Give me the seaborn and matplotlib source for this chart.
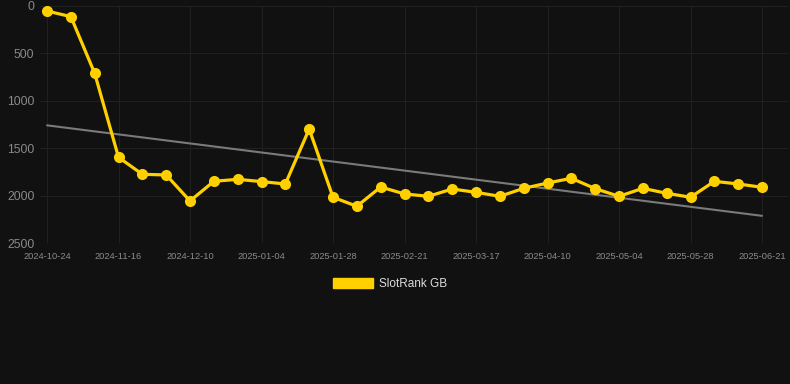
import numpy as np
import pandas as pd
import matplotlib
matplotlib.use('Agg')
import matplotlib.pyplot as plt
import seaborn as sns
from matplotlib.patches import Patch

# ── Data ───────────────────────────────────────────────────────────────────
rank = [53, 112, 709, 1594, 1773, 1780, 2054, 1847, 1826, 1850, 1875,
        1296, 2015, 2110, 1907, 1980, 2005, 1928, 1963, 2005, 1921, 1865,
        1815, 1924, 2005, 1921, 1973, 2015, 1847, 1875, 1910]
tick_labels = ['2024-10-24', '2024-11-16', '2024-12-10', '2025-01-04',
               '2025-01-28', '2025-02-21', '2025-03-17', '2025-04-10',
               '2025-05-04', '2025-05-28', '2025-06-21']
y_ticks = [0, 500, 1000, 1500, 2000, 2500]
series_name = 'SlotRank GB'

BG     = '#111111'
GOLD   = '#FFD000'
GRID   = '#202020'
TICKC  = '#8a8a8a'

df = pd.DataFrame({'idx': np.arange(len(rank)), 'rank': rank})

# linear trend over the series
coef  = np.polyfit(df['idx'], df['rank'], 1)
trend = np.polyval(coef, df['idx'])

# ── Plot ───────────────────────────────────────────────────────────────────
sns.set_theme(style='dark', rc={
    'figure.facecolor': BG, 'axes.facecolor': BG,
    'axes.edgecolor': BG, 'grid.color': GRID,
})
plt.rcParams['font.family'] = ['Liberation Sans', 'DejaVu Sans']

fig = plt.figure(figsize=(7.9, 3.84), dpi=100)
ax = fig.add_axes([40/790, 1 - 243.3/384, 748/790, 237.3/384])

ax.plot(df['idx'], trend, color='#7a7a7a', lw=1.5, zorder=2)
sns.lineplot(data=df, x='idx', y='rank', ax=ax, color=GOLD, lw=2.3,
             marker='o', markersize=8, markeredgewidth=0, zorder=3)

ax.set_ylim(2500, 0)
ax.set_xlim(-0.294, 31.09)
ax.set_yticks(y_ticks)
ax.set_yticklabels([str(v) for v in y_ticks])
ax.set_xticks(np.arange(0, len(rank), 3))
ax.set_xticklabels(tick_labels)
ax.set_xlabel(''); ax.set_ylabel('')
ax.grid(True, color=GRID, lw=0.8)
ax.tick_params(axis='y', colors=TICKC, labelsize=8.7, length=0, pad=4)
ax.tick_params(axis='x', colors=TICKC, labelsize=6.7, length=0, pad=6)
for s in ax.spines.values():
    s.set_visible(False)

fig.legend(handles=[Patch(facecolor=GOLD, edgecolor=GOLD)],
           labels=[series_name], loc='center', bbox_to_anchor=(390/790, 1 - 284/384),
           frameon=False, fontsize=8.5, labelcolor='#dddddd',
           handlelength=3.4, handleheight=1.0, handletextpad=0.5)

plt.savefig('out.png', dpi=100, facecolor=BG)
plt.close()
